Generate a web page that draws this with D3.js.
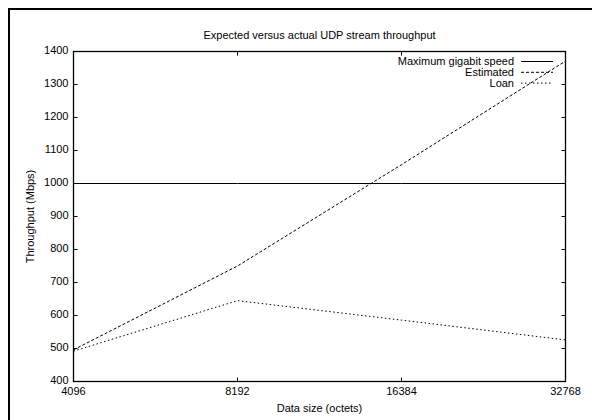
<!DOCTYPE html>
<html><head><meta charset="utf-8">
<script src="https://cdn.jsdelivr.net/npm/d3@7"></script>
<style>
html,body{margin:0;padding:0;background:#fff;}
text{font-family:"Liberation Sans",Arial,sans-serif;font-size:11px;fill:#000;}
</style></head>
<body>
<svg id="c" width="592" height="420"></svg>
<script>
const sizes = [4096, 8192, 16384, 32768];
const estimated = [496, 750, 1057, 1371];
const loan = [492, 645, 586, 526];
const maxSpeed = [1000, 1000, 1000, 1000];
const xTicks = [4096, 8192, 16384, 32768];
const yTicks = [400, 500, 600, 700, 800, 900, 1000, 1100, 1200, 1300, 1400];
const seriesNames = ["Maximum gigabit speed", "Estimated", "Loan"];

const svg = d3.select("#c");
const L = 73.5, R = 565.5, T = 51.5, B = 381.5;

// outer frame
svg.append("rect").attr("x", 9).attr("y", 9).attr("width", 600).attr("height", 430)
  .attr("fill", "none").attr("stroke", "#000").attr("stroke-width", 2);

const x = d3.scaleLog().base(2).domain([4096, 32768]).range([L, R]);
const y = d3.scaleLinear().domain([400, 1400]).range([B, T]);

const tl = 4;
const g = svg.append("g");
yTicks.forEach(v => {
  g.append("line").attr("x1", L).attr("x2", L + tl).attr("y1", y(v)).attr("y2", y(v)).attr("stroke", "#000");
  g.append("line").attr("x1", R).attr("x2", R - tl).attr("y1", y(v)).attr("y2", y(v)).attr("stroke", "#000");
  g.append("text").attr("x", L - 5).attr("y", y(v) - 1).attr("dy", "0.35em").attr("text-anchor", "end").text(v);
});
xTicks.forEach(v => {
  g.append("line").attr("x1", x(v)).attr("x2", x(v)).attr("y1", B).attr("y2", B - tl).attr("stroke", "#000");
  g.append("line").attr("x1", x(v)).attr("x2", x(v)).attr("y1", T).attr("y2", T + tl).attr("stroke", "#000");
  g.append("text").attr("x", x(v)).attr("y", B + 13).attr("text-anchor", "middle").text(v);
});

const line = d3.line().x(d => x(d[0])).y(d => y(d[1]));
const styles = [
  {data: maxSpeed, dash: null},
  {data: estimated, dash: "3,2"},
  {data: loan, dash: "1.5,2.5"}
];
styles.forEach(s => {
  const p = svg.append("path").datum(sizes.map((d, i) => [d, s.data[i]]))
    .attr("d", line).attr("fill", "none").attr("stroke", "#000").attr("stroke-width", 1);
  if (s.dash) p.attr("stroke-dasharray", s.dash);
});

svg.append("rect").attr("x", L).attr("y", T).attr("width", R - L).attr("height", B - T)
  .attr("fill", "none").attr("stroke", "#000").attr("stroke-width", 1.3);

const ly0 = 61.5, lstep = 10.8;
seriesNames.forEach((n, i) => {
  const yy = ly0 + i * lstep;
  svg.append("text").attr("x", 514).attr("y", yy).attr("dy", "0.35em").attr("text-anchor", "end").text(n);
  const ln = svg.append("line").attr("x1", 521).attr("x2", 553).attr("y1", yy).attr("y2", yy)
    .attr("stroke", "#000").attr("stroke-width", 1);
  if (styles[i].dash) ln.attr("stroke-dasharray", styles[i].dash);
});

svg.append("text").attr("x", (L + R) / 2).attr("y", 39).attr("text-anchor", "middle")
  .text("Expected versus actual UDP stream throughput");
svg.append("text").attr("x", (L + R) / 2).attr("y", 412).attr("text-anchor", "middle")
  .text("Data size (octets)");
svg.append("text").attr("transform", `translate(34,${(T + B) / 2}) rotate(-90)`)
  .attr("text-anchor", "middle").text("Throughput (Mbps)");
</script>
</body></html>
